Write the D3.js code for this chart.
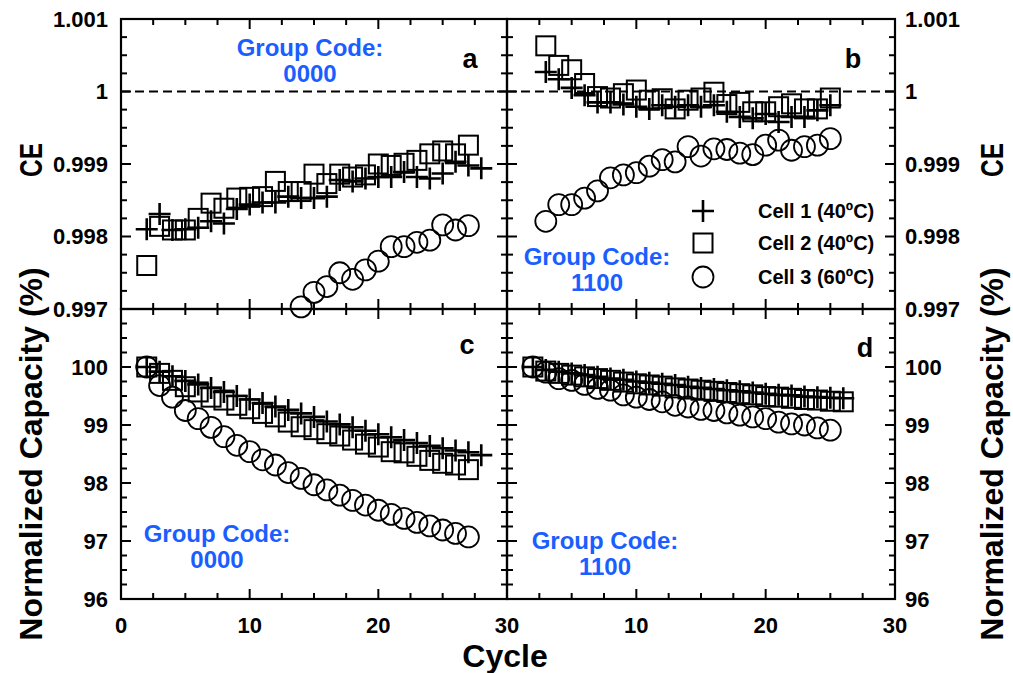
<!DOCTYPE html>
<html>
<head>
<meta charset="utf-8">
<script src="https://cdn.jsdelivr.net/npm/d3@7"></script>
<style>
  body { margin: 0; background: #fff; }
  svg { font-family: "Liberation Sans", Arial, sans-serif; font-weight: bold; }
</style>
</head>
<body>
<svg width="1013" height="673"></svg>
<script>
// cycles
const cyclesA = d3.range(2, 29);
const cyclesB = d3.range(3, 26);
const cyclesD = d3.range(2, 27);

// panel a: CE, group code 0000
const ceA1 = [0.99810, 0.99831, 0.99809, 0.99810, 0.99812, 0.99821, 0.99818, 0.99838, 0.99844, 0.99847, 0.99847, 0.99855, 0.99853, 0.99853, 0.99855, 0.99878, 0.99876, 0.99880, 0.99882, 0.99882, 0.99889, 0.99882, 0.99880, 0.99887, 0.99903, 0.99898, 0.99894];
const ceA2 = [0.99760, 0.99814, 0.99809, 0.99809, 0.99825, 0.99846, 0.99839, 0.99853, 0.99854, 0.99855, 0.99876, 0.99862, 0.99862, 0.99886, 0.99873, 0.99886, 0.99882, 0.99885, 0.99900, 0.99898, 0.99901, 0.99905, 0.99914, 0.99918, 0.99914, 0.99926];
const ceA3 = [0.99703, 0.99723, 0.99731, 0.99750, 0.99741, 0.99754, 0.99766, 0.99786, 0.99786, 0.99792, 0.99795, 0.99816, 0.99809, 0.99815];
const ceA3Start = 14;

// panel b: CE, group code 1100
const ceB1 = [1.00027, 1.00017, 1.00005, 0.99995, 0.99985, 0.99985, 0.99982, 0.99979, 0.99976, 0.99981, 0.99979, 0.99981, 0.99979, 0.99981, 0.99972, 0.99965, 0.99963, 0.99969, 0.99958, 0.99965, 0.99965, 0.99974, 0.99981];
const ceB2 = [1.00063, 1.00036, 1.00030, 1.00011, 0.99993, 0.99991, 0.99997, 1.00002, 0.99988, 0.99990, 0.99976, 0.99988, 0.99991, 0.99999, 0.99982, 0.99985, 0.99972, 0.99972, 0.99979, 0.99983, 0.99976, 0.99976, 0.99991];
const ceB3 = [0.99821, 0.99844, 0.99844, 0.99853, 0.99863, 0.99881, 0.99885, 0.99888, 0.99897, 0.99906, 0.99903, 0.99924, 0.99911, 0.99921, 0.99920, 0.99915, 0.99913, 0.99926, 0.99933, 0.99919, 0.99924, 0.99926, 0.99935];

// panel c: capacity, group code 0000
const capC1 = [100.00, 99.92, 99.84, 99.76, 99.70, 99.64, 99.57, 99.50, 99.44, 99.38, 99.32, 99.26, 99.20, 99.14, 99.06, 99.01, 98.96, 98.90, 98.84, 98.79, 98.74, 98.69, 98.64, 98.60, 98.56, 98.53, 98.48];
const capC2 = [100.00, 99.89, 99.77, 99.66, 99.57, 99.48, 99.43, 99.34, 99.28, 99.20, 99.14, 99.05, 98.97, 98.92, 98.85, 98.81, 98.74, 98.67, 98.62, 98.54, 98.52, 98.46, 98.39, 98.34, 98.31, 98.23];
const capC3 = [100.00, 99.68, 99.48, 99.25, 99.11, 98.96, 98.80, 98.65, 98.54, 98.40, 98.31, 98.18, 98.08, 97.97, 97.88, 97.79, 97.70, 97.62, 97.53, 97.46, 97.39, 97.32, 97.26, 97.19, 97.13, 97.07];

// panel d: capacity, group code 1100
const capD1 = [100.00, 99.95, 99.92, 99.89, 99.86, 99.83, 99.80, 99.78, 99.75, 99.73, 99.71, 99.69, 99.66, 99.64, 99.62, 99.60, 99.58, 99.56, 99.54, 99.52, 99.51, 99.49, 99.48, 99.47, 99.46];
const capD2 = [100.00, 99.93, 99.89, 99.86, 99.83, 99.80, 99.77, 99.74, 99.71, 99.69, 99.67, 99.64, 99.62, 99.60, 99.58, 99.56, 99.54, 99.52, 99.49, 99.48, 99.46, 99.44, 99.43, 99.41, 99.40];
const capD3 = [100.00, 99.91, 99.80, 99.77, 99.70, 99.63, 99.60, 99.52, 99.48, 99.44, 99.40, 99.34, 99.31, 99.27, 99.25, 99.21, 99.17, 99.14, 99.11, 99.05, 99.02, 99.00, 98.95, 98.91];

// ticks
const xTickLabelsLeft = [0, 10, 20, 30];
const xTickLabelsRight = [10, 20, 30];
const ceTicks = [1.001, 1, 0.999, 0.998, 0.997];
const capTicks = [100, 99, 98, 97, 96];
const legendLabels = ['Cell 1 (40ºC)', 'Cell 2 (40ºC)', 'Cell 3 (60ºC)'];

const blue = '#1a5eff';
const svg = d3.select('svg');

const xLeft = d3.scaleLinear().domain([0, 30]).range([121, 507]);
const xRight = d3.scaleLinear().domain([0, 30]).range([507, 895]);
const yCE = d3.scaleLinear().domain([0.997, 1.001]).range([309, 19]);
const yCap = d3.scaleLinear().domain([96, 101]).range([599, 309]);

const pair = (start, vals) => vals.map((v, i) => ({c: start + i, v}));

function drawFrame(x, y, xMinor, yMinor) {
  const g = svg.append('g');
  const [x0, x1] = x.range();
  const [yb, yt] = y.range();
  // inward ticks on all four sides, every 4th one is major
  xMinor.forEach((d, i) => {
    const len = i % 4 === 0 ? 10 : 6;
    g.append('line').attr('x1', x(d)).attr('x2', x(d)).attr('y1', yb).attr('y2', yb - len);
    g.append('line').attr('x1', x(d)).attr('x2', x(d)).attr('y1', yt).attr('y2', yt + len);
  });
  yMinor.forEach((d, i) => {
    const len = i % 4 === 0 ? 10 : 6;
    g.append('line').attr('y1', y(d)).attr('y2', y(d)).attr('x1', x0).attr('x2', x0 + len);
    g.append('line').attr('y1', y(d)).attr('y2', y(d)).attr('x1', x1).attr('x2', x1 - len);
  });
  g.selectAll('line').attr('stroke', '#000').attr('stroke-width', 2);
  g.append('rect').attr('x', x0).attr('y', yt).attr('width', x1 - x0).attr('height', yb - yt)
    .attr('fill', 'none').attr('stroke', '#000').attr('stroke-width', 2.2);
}

function drawMarkers(x, y, data, kind) {
  const g = svg.append('g').attr('fill', 'none').attr('stroke', '#000');
  if (kind === 'plus') {
    g.selectAll('path').data(data).enter().append('path')
      .attr('d', d => `M${x(d.c) - 11},${y(d.v)}h22M${x(d.c)},${y(d.v) - 11}v22`)
      .attr('stroke-width', 2.6);
  } else if (kind === 'square') {
    g.selectAll('rect').data(data).enter().append('rect')
      .attr('x', d => x(d.c) - 9.5).attr('y', d => y(d.v) - 9.5)
      .attr('width', 19).attr('height', 19).attr('stroke-width', 2);
  } else {
    g.selectAll('circle').data(data).enter().append('circle')
      .attr('cx', d => x(d.c)).attr('cy', d => y(d.v)).attr('r', 10.5).attr('stroke-width', 1.8);
  }
}

function groupCode(cx, y0, code) {
  const t = svg.append('text').attr('text-anchor', 'middle').attr('fill', blue).style('font-size', '24px');
  t.append('tspan').attr('x', cx).attr('y', y0).text('Group Code:');
  t.append('tspan').attr('x', cx).attr('y', y0 + 26).text(code);
}

function panelLabel(x, y, s) {
  svg.append('text').attr('x', x).attr('y', y).attr('text-anchor', 'middle').style('font-size', '27px').text(s);
}

const xMinor = d3.range(0, 30.01, 2.5);
const ceMinor = d3.range(0, 17).map(i => 0.997 + i * 0.00025);
const capMinor = d3.range(0, 21).map(i => 96 + i * 0.25);

// dashed CE = 1 lines
[xLeft, xRight].forEach(x => {
  svg.append('line').attr('x1', x.range()[0]).attr('x2', x.range()[1]).attr('y1', yCE(1)).attr('y2', yCE(1))
    .attr('stroke', '#000').attr('stroke-width', 1.8).attr('stroke-dasharray', '9,5');
});

drawFrame(xLeft, yCE, xMinor, ceMinor);
drawFrame(xRight, yCE, xMinor, ceMinor);
drawFrame(xLeft, yCap, xMinor, capMinor);
drawFrame(xRight, yCap, xMinor, capMinor);

// panel a
drawMarkers(xLeft, yCE, pair(ceA3Start, ceA3), 'circle');
drawMarkers(xLeft, yCE, pair(2, ceA2), 'square');
drawMarkers(xLeft, yCE, pair(cyclesA[0], ceA1), 'plus');
// panel b
drawMarkers(xRight, yCE, pair(cyclesB[0], ceB3), 'circle');
drawMarkers(xRight, yCE, pair(cyclesB[0], ceB2), 'square');
drawMarkers(xRight, yCE, pair(cyclesB[0], ceB1), 'plus');
// panel c
drawMarkers(xLeft, yCap, pair(2, capC3), 'circle');
drawMarkers(xLeft, yCap, pair(2, capC2), 'square');
drawMarkers(xLeft, yCap, pair(cyclesA[0], capC1), 'plus');
// panel d
drawMarkers(xRight, yCap, pair(2, capD3), 'circle');
drawMarkers(xRight, yCap, pair(cyclesD[0], capD2), 'square');
drawMarkers(xRight, yCap, pair(2, capD1), 'plus');

// tick labels
const tickFont = '22px';
ceTicks.forEach(d => {
  svg.append('text').attr('x', 108).attr('y', yCE(d)).attr('dy', '0.36em').attr('text-anchor', 'end').style('font-size', tickFont).text(d);
  svg.append('text').attr('x', 905).attr('y', yCE(d)).attr('dy', '0.36em').style('font-size', tickFont).text(d);
});
capTicks.forEach(d => {
  svg.append('text').attr('x', 108).attr('y', yCap(d)).attr('dy', '0.36em').attr('text-anchor', 'end').style('font-size', tickFont).text(d);
  svg.append('text').attr('x', 905).attr('y', yCap(d)).attr('dy', '0.36em').style('font-size', tickFont).text(d);
});
xTickLabelsLeft.forEach(d => {
  svg.append('text').attr('x', xLeft(d)).attr('y', 633).attr('text-anchor', 'middle').style('font-size', tickFont).text(d);
});
xTickLabelsRight.forEach(d => {
  svg.append('text').attr('x', xRight(d)).attr('y', 633).attr('text-anchor', 'middle').style('font-size', tickFont).text(d);
});

// axis titles
svg.append('text').attr('x', 505).attr('y', 667).attr('text-anchor', 'middle').style('font-size', '32px').text('Cycle');
[42, 1003].forEach(x => {
  svg.append('text').attr('transform', `translate(${x},160) rotate(-90)`).attr('text-anchor', 'middle')
    .style('font-size', '31px').attr('textLength', 34).attr('lengthAdjust', 'spacingAndGlyphs').text('CE');
  svg.append('text').attr('transform', `translate(${x},454) rotate(-90)`).attr('text-anchor', 'middle')
    .style('font-size', '32px').text('Normalized Capacity (%)');
});

// panel letters and group codes
panelLabel(470, 68, 'a');
panelLabel(853, 68, 'b');
panelLabel(467, 354, 'c');
panelLabel(865, 357, 'd');
groupCode(310, 56, '0000');
groupCode(597, 265, '1100');
groupCode(217, 542, '0000');
groupCode(605, 549, '1100');

// legend
const legendY = [211, 243, 277];
const legendKinds = ['plus', 'square', 'circle'];
legendKinds.forEach((k, i) => {
  drawMarkers(() => 703, () => legendY[i], [{c: 0, v: 0}], k);
  svg.append('text').attr('x', 758).attr('y', legendY[i]).attr('dy', '0.36em').style('font-size', '20px').text(legendLabels[i]);
});
</script>
</body>
</html>
